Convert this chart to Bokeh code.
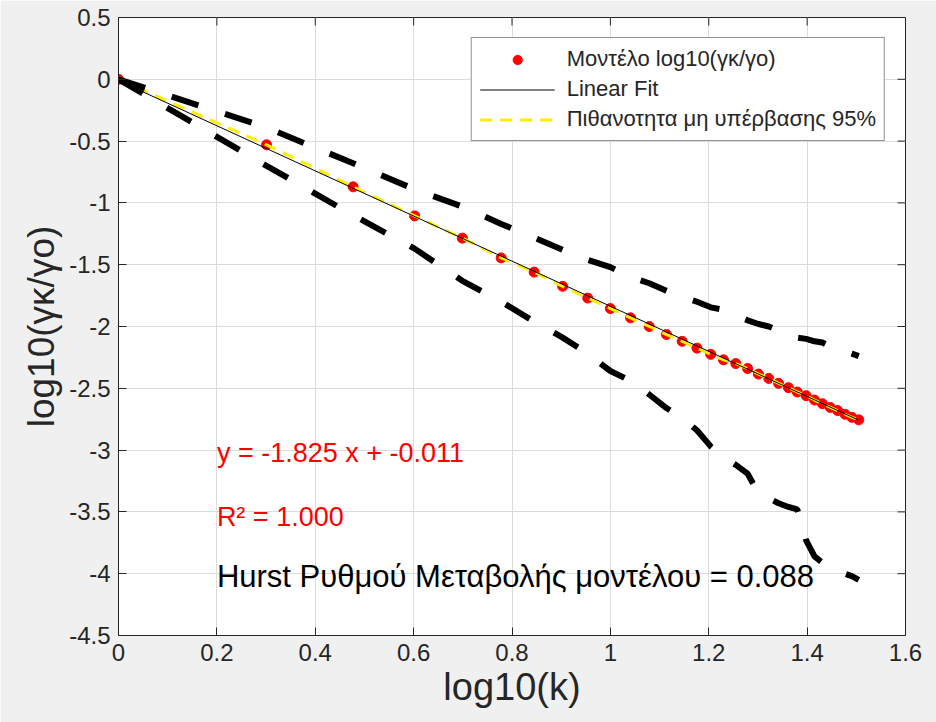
from bokeh.plotting import figure
from bokeh.models import FixedTicker, Range1d, Legend, LegendItem, Label
from bokeh.embed import file_html
from bokeh.resources import INLINE

# ---- data ----
K = list(range(1, 33))
X_LOG_K = [0.000, 0.301, 0.477, 0.602, 0.699, 0.778, 0.845, 0.903, 0.954, 1.000,
           1.041, 1.079, 1.114, 1.146, 1.176, 1.204, 1.230, 1.255, 1.279, 1.301,
           1.322, 1.342, 1.362, 1.380, 1.398, 1.415, 1.431, 1.447, 1.462, 1.477,
           1.491, 1.505]
Y_MODEL = [0.000, -0.530, -0.870, -1.105, -1.285, -1.445, -1.560, -1.675, -1.770, -1.855,
           -1.930, -2.000, -2.065, -2.120, -2.175, -2.225, -2.270, -2.300, -2.340, -2.385,
           -2.420, -2.460, -2.495, -2.530, -2.560, -2.595, -2.625, -2.655, -2.680, -2.710,
           -2.735, -2.755]
Y_P95 = [0.000, -0.530, -0.870, -1.105, -1.285, -1.445, -1.560, -1.675, -1.770, -1.855,
         -1.930, -2.000, -2.065, -2.120, -2.175, -2.225, -2.270, -2.300, -2.340, -2.385,
         -2.420, -2.460, -2.495, -2.530, -2.560, -2.595, -2.625, -2.655, -2.680, -2.710,
         -2.735, -2.755]
Y_UPPER = [0.00, -0.39, -0.68, -0.89, -1.03, -1.17, -1.28, -1.38, -1.46, -1.52,
           -1.60, -1.65, -1.71, -1.76, -1.80, -1.845, -1.865, -1.91, -1.95, -1.98,
           -2.00, -2.03, -2.06, -2.09, -2.10, -2.12, -2.13, -2.16, -2.18, -2.20,
           -2.22, -2.24]
Y_LOWER = [0.00, -0.70, -1.10, -1.37, -1.63, -1.80, -1.96, -2.09, -2.22, -2.36,
           -2.44, -2.55, -2.66, -2.74, -2.84, -2.97, -3.06, -3.12, -3.19, -3.35,
           -3.39, -3.43, -3.46, -3.48, -3.73, -3.86, -3.91, -3.94, -3.97, -4.00,
           -4.02, -4.05]
FIT_SLOPE = -1.825
FIT_INTERCEPT = -0.011
R2 = 1.000
HURST = 0.088

X_TICKS = [0, 0.2, 0.4, 0.6, 0.8, 1, 1.2, 1.4, 1.6]
X_TICK_LABELS = ["0", "0.2", "0.4", "0.6", "0.8", "1", "1.2", "1.4", "1.6"]
Y_TICKS = [0.5, 0, -0.5, -1, -1.5, -2, -2.5, -3, -3.5, -4, -4.5]
Y_TICK_LABELS = ["0.5", "0", "-0.5", "-1", "-1.5", "-2", "-2.5", "-3", "-3.5", "-4", "-4.5"]

FONT = "Liberation Sans"
AX_COLOR = "#262626"
X_MIN, X_MAX = X_TICKS[0], X_TICKS[-1]
Y_MIN, Y_MAX = Y_TICKS[-1], Y_TICKS[0]

W, H = 936, 722
B_LEFT, B_RIGHT, B_TOP, B_BOTTOM = 118, 31, 17, 87
TICK_PX = 8

fit_x = [X_LOG_K[0], X_LOG_K[-1]]
fit_y = [FIT_SLOPE * v + FIT_INTERCEPT for v in fit_x]

p = figure(width=W, height=H, x_range=Range1d(X_MIN, X_MAX), y_range=Range1d(Y_MIN, Y_MAX),
           output_backend="svg", toolbar_location=None,
           min_border_left=B_LEFT, min_border_right=B_RIGHT,
           min_border_top=B_TOP, min_border_bottom=B_BOTTOM,
           border_fill_color="#f0f0f0", background_fill_color="white",
           outline_line_color=AX_COLOR, outline_line_width=1)

def style_axis(ax, ticks, labels):
    ax.ticker = FixedTicker(ticks=ticks)
    ax.major_label_overrides = dict(zip(ticks, labels))
    ax.major_tick_in = TICK_PX
    ax.major_tick_out = 0
    ax.minor_tick_line_color = None
    ax.axis_line_color = AX_COLOR
    ax.major_tick_line_color = AX_COLOR
    ax.major_label_text_font = FONT
    ax.major_label_text_font_size = "24px"
    ax.major_label_text_color = AX_COLOR
    ax.major_label_standoff = 8
    ax.axis_label_text_font = FONT
    ax.axis_label_text_font_style = "normal"
    ax.axis_label_text_color = AX_COLOR

style_axis(p.xaxis[0], X_TICKS, X_TICK_LABELS)
style_axis(p.yaxis[0], Y_TICKS, Y_TICK_LABELS)
p.xaxis[0].axis_label = "log10(k)"
p.xaxis[0].axis_label_text_font_size = "38px"
p.xaxis[0].axis_label_standoff = 2
p.yaxis[0].axis_label = "log10(γκ/γο)"
p.yaxis[0].axis_label_text_font_size = "37px"
p.yaxis[0].axis_label_standoff = 4

p.xgrid.ticker = FixedTicker(ticks=X_TICKS)
p.ygrid.ticker = FixedTicker(ticks=Y_TICKS)
p.xgrid.grid_line_color = "#dcdcdc"
p.ygrid.grid_line_color = "#dcdcdc"

# box ticks on top and right edges (MATLAB "box on")
frame_w = W - B_LEFT - B_RIGHT
frame_h = H - B_TOP - B_BOTTOM
dy = TICK_PX * (Y_MAX - Y_MIN) / frame_h
dx = TICK_PX * (X_MAX - X_MIN) / frame_w
p.segment(x0=X_TICKS, y0=[Y_MAX] * len(X_TICKS), x1=X_TICKS, y1=[Y_MAX - dy] * len(X_TICKS),
          line_color=AX_COLOR, line_width=1)
p.segment(x0=[X_MAX] * len(Y_TICKS), y0=Y_TICKS, x1=[X_MAX - dx] * len(Y_TICKS), y1=Y_TICKS,
          line_color=AX_COLOR, line_width=1)

r_model = p.scatter(X_LOG_K, Y_MODEL, size=10, fill_color="#ff0000", line_color="#ff0000")
r_p95 = p.line(X_LOG_K, Y_P95, line_color="#ffee00", line_width=3, line_dash="12 8")
r_fit = p.line(fit_x, fit_y, line_color="black", line_width=1)
p.line(X_LOG_K, Y_UPPER, line_color="black", line_width=6, line_dash="28 28")
p.line(X_LOG_K, Y_LOWER, line_color="black", line_width=6, line_dash="28 28")

legend = Legend(items=[
    LegendItem(label="Μοντέλο log10(γκ/γο)", renderers=[r_model]),
    LegendItem(label="Linear Fit", renderers=[r_fit]),
    LegendItem(label="Πιθανοτητα μη υπέρβασης 95%", renderers=[r_p95]),
], location="top_right", margin=20, padding=8, spacing=4,
   glyph_width=75, glyph_height=23, label_height=23, label_standoff=12,
   label_text_font=FONT, label_text_font_size="22px", label_text_color=AX_COLOR,
   border_line_color=AX_COLOR, border_line_width=1, background_fill_color="white",
   background_fill_alpha=1.0)
p.add_layout(legend)

p.add_layout(Label(x=0.2, y=-3.02, text=f"y = {FIT_SLOPE:.3f} x + {FIT_INTERCEPT:.3f}",
                   text_font=FONT, text_font_size="27px", text_color="#ff0000",
                   text_baseline="middle", text_align="left"))
p.add_layout(Label(x=0.2, y=-3.54, text=f"R² = {R2:.3f}",
                   text_font=FONT, text_font_size="27px", text_color="#ff0000",
                   text_baseline="middle", text_align="left"))
p.add_layout(Label(x=0.2, y=-4.02, text=f"Hurst Ρυθμού Μεταβολής μοντέλου = {HURST:.3f}",
                   text_font=FONT, text_font_size="31px", text_color="black",
                   text_baseline="middle", text_align="left"))

open("out.html", "w").write(file_html(p, INLINE))
